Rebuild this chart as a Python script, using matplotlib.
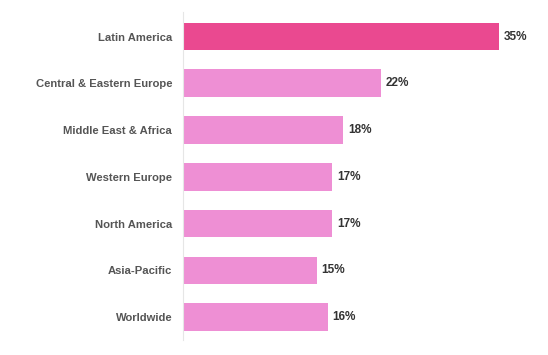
import matplotlib
matplotlib.use("Agg")
import matplotlib.pyplot as plt

# Data
regions = ["Latin America", "Central & Eastern Europe", "Middle East & Africa",
           "Western Europe", "North America", "Asia-Pacific", "Worldwide"]
shares = [35, 21.9, 17.7, 16.5, 16.5, 14.8, 16.0]
share_labels = ["35%", "22%", "18%", "17%", "17%", "15%", "16%"]

plt.rcParams['font.family'] = ['Liberation Sans', 'DejaVu Sans']

fig = plt.figure(figsize=(5.48, 3.55), dpi=100)
ax = fig.add_axes([0.3345, 0.0423, 0.65, 0.9239])

colors = ["#EA4990" if i == 0 else "#EE8FD4" for i in range(len(regions))]
ypos = list(range(len(regions)))
bars = ax.barh(ypos, shares, height=0.59, color=colors)

for b, lab in zip(bars, share_labels):
    ax.text(b.get_width() + 0.55, b.get_y() + b.get_height() / 2, lab,
            va="center", ha="left", fontsize=8.5, fontweight="bold", color="#333333")

ax.set_yticks(ypos)
ax.set_yticklabels(regions, fontsize=8.1, fontweight="bold", color="#555555")
ax.tick_params(axis="y", length=0, pad=8)
ax.set_xticks([])
ax.set_xlim(0, 39.5)
ax.set_ylim(6.49, -0.524)

for s in ["top", "right", "bottom"]:
    ax.spines[s].set_visible(False)
ax.spines["left"].set_color("#e6e6e6")
ax.spines["left"].set_linewidth(0.8)

fig.savefig("out.png", dpi=100)
